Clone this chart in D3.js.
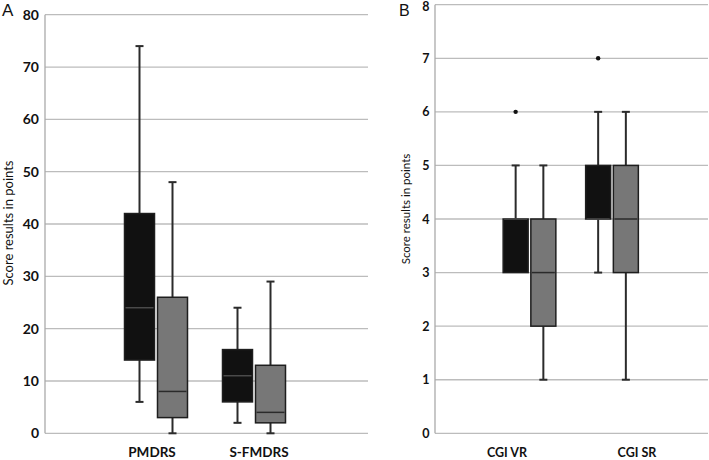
<!DOCTYPE html>
<html>
<head>
<meta charset="utf-8">
<script src="https://cdn.jsdelivr.net/npm/d3@7"></script>
<style>
  body { margin: 0; background: #fff; }
  text { font-family: Lato, "Open Sans", sans-serif; fill: #111; }
</style>
</head>
<body>
<script>
// groups: first box black, second box grey
var groups = ["g1", "g2"];

// panel A
var catsA = ["PMDRS", "S-FMDRS"];
var ticksA = [0, 10, 20, 30, 40, 50, 60, 70, 80];
var minA1 = [6, 2],  q1A1 = [14, 6], medA1 = [24, 11], q3A1 = [42, 16], maxA1 = [74, 24];
var minA2 = [0, 0],  q1A2 = [3, 2],  medA2 = [8, 4],   q3A2 = [26, 13], maxA2 = [48, 29];
var outA1 = [[], []], outA2 = [[], []];

// panel B
var catsB = ["CGI VR", "CGI SR"];
var ticksB = [0, 1, 2, 3, 4, 5, 6, 7, 8];
var minB1 = [3, 3], q1B1 = [3, 4], medB1 = [4, 4], q3B1 = [4, 5], maxB1 = [5, 6];
var minB2 = [1, 1], q1B2 = [2, 3], medB2 = [3, 4], q3B2 = [4, 5], maxB2 = [5, 6];
var outB1 = [[6], [7]], outB2 = [[], []];

var fills = { g1: "#111111", g2: "#777777" },
    medColor = { g1: "#4a4a4a", g2: "#2a2a2a" };

var svg = d3.select("body").append("svg").attr("width", 709).attr("height", 460);

function rows(cats, mins, q1s, meds, q3s, maxs, outs, grp) {
    return cats.map(function(c, i) {
        return { cat: c, grp: grp, min: mins[i], q1: q1s[i], med: meds[i], q3: q3s[i], max: maxs[i], out: outs[i] };
    });
}

function drawPanel(p) {
    var g = svg.append("g");
    var y = d3.scaleLinear().domain(p.yDomain).range([433.3, p.yTop]);
    // labels sit in their own bands, boxes are pulled a bit to the middle
    var xLab = d3.scaleBand().domain(p.cats).range(p.labRange);
    var xBox = d3.scalePoint().domain(p.cats).range(p.boxRange);
    var xSub = d3.scaleBand().domain(groups).range([-p.subR, p.subR]).paddingInner(p.subPad);
    var bw = xSub.bandwidth();

    // grid
    g.selectAll("line.grid").data(p.ticks).enter().append("line")
        .attr("x1", p.x0).attr("x2", p.x1)
        .attr("y1", function(d) { return y(d); }).attr("y2", function(d) { return y(d); })
        .attr("stroke", "#bcbcbc").attr("stroke-width", 1.3);
    g.append("line").attr("x1", p.x0).attr("x2", p.x0)
        .attr("y1", y(p.ticks[p.ticks.length - 1])).attr("y2", y(0))
        .attr("stroke", "#aaa").attr("stroke-width", 1.3);

    g.selectAll("text.tick").data(p.ticks).enter().append("text")
        .attr("x", p.tickX).attr("y", function(d) { return Math.max(y(d), 6); })
        .attr("dy", "0.36em").attr("text-anchor", "end")
        .style("font-size", p.tickSize + "px").style("font-weight", "bold")
        .text(function(d) { return d; });

    g.selectAll("text.cat").data(p.cats).enter().append("text")
        .attr("x", function(d) { return xLab(d) + xLab.bandwidth() / 2; })
        .attr("y", 457).attr("text-anchor", "middle")
        .style("font-size", p.catSize + "px").style("font-weight", "bold")
        .text(function(d) { return d; });

    g.append("text")
        .attr("transform", "translate(" + p.titleX + "," + p.titleY + ") rotate(-90)")
        .attr("text-anchor", "middle").style("font-size", p.titleSize + "px")
        .text("Score results in points");

    g.append("text").attr("x", p.letterX).attr("y", 16)
        .style("font-family", "'Liberation Sans', Arial, sans-serif")
        .style("font-size", p.letterSize + "px")
        .text(p.letter);

    var data = p.data;
    var cx = function(d) { return xBox(d.cat) + xSub(d.grp) + bw / 2; };
    var box = g.selectAll("g.box").data(data).enter().append("g");

    // whiskers
    box.filter(function(d) { return d.max > d.q3; }).append("line")
        .attr("x1", cx).attr("x2", cx)
        .attr("y1", function(d) { return y(d.q3); }).attr("y2", function(d) { return y(d.max); })
        .attr("stroke", "#2b2b2b").attr("stroke-width", 2);
    box.filter(function(d) { return d.max > d.q3; }).append("line")
        .attr("x1", function(d) { return cx(d) - 4; }).attr("x2", function(d) { return cx(d) + 4; })
        .attr("y1", function(d) { return y(d.max); }).attr("y2", function(d) { return y(d.max); })
        .attr("stroke", "#2b2b2b").attr("stroke-width", 2);
    box.filter(function(d) { return d.min < d.q1; }).append("line")
        .attr("x1", cx).attr("x2", cx)
        .attr("y1", function(d) { return y(d.q1); }).attr("y2", function(d) { return y(d.min); })
        .attr("stroke", "#2b2b2b").attr("stroke-width", 2);
    box.filter(function(d) { return d.min < d.q1; }).append("line")
        .attr("x1", function(d) { return cx(d) - 4; }).attr("x2", function(d) { return cx(d) + 4; })
        .attr("y1", function(d) { return y(d.min); }).attr("y2", function(d) { return y(d.min); })
        .attr("stroke", "#2b2b2b").attr("stroke-width", 2);

    box.append("rect")
        .attr("x", function(d) { return cx(d) - bw / 2; })
        .attr("width", bw)
        .attr("y", function(d) { return y(d.q3); })
        .attr("height", function(d) { return y(d.q1) - y(d.q3); })
        .attr("fill", function(d) { return fills[d.grp]; })
        .attr("stroke", "#1e1e1e").attr("stroke-width", 1.5);

    box.append("line")
        .attr("x1", function(d) { return cx(d) - bw / 2 + 1; })
        .attr("x2", function(d) { return cx(d) + bw / 2 - 1; })
        .attr("y1", function(d) { return y(d.med); }).attr("y2", function(d) { return y(d.med); })
        .attr("stroke", function(d) { return medColor[d.grp]; }).attr("stroke-width", 1.5);

    box.selectAll("circle").data(function(d) { return d.out.map(function(v) { return { v: v, d: d }; }); })
        .enter().append("circle")
        .attr("cx", function(o) { return cx(o.d); })
        .attr("cy", function(o) { return y(o.v); })
        .attr("r", 2.2).attr("fill", "#111");
}

drawPanel({
    cats: catsA, ticks: ticksA, yDomain: [0, 80], yTop: 14.7,
    x0: 45, x1: 368, labRange: [98.5, 312.5], boxRange: [156, 254],
    subR: 31.5, subPad: 3 / 33,
    tickX: 39, tickSize: 14, catSize: 13.5,
    titleX: 12.5, titleY: 223, titleSize: 13,
    letter: "A", letterX: 2, letterSize: 17,
    data: rows(catsA, minA1, q1A1, medA1, q3A1, maxA1, outA1, "g1")
        .concat(rows(catsA, minA2, q1A2, medA2, q3A2, maxA2, outA2, "g2"))
});

drawPanel({
    cats: catsB, ticks: ticksB, yDomain: [0, 8], yTop: 4.7,
    x0: 435, x1: 708, labRange: [442, 702], boxRange: [529.5, 612],
    subR: 26.35, subPad: 0.0975,
    tickX: 429.5, tickSize: 12.5, catSize: 12.5,
    titleX: 409.5, titleY: 209, titleSize: 11.5,
    letter: "B", letterX: 399, letterSize: 16,
    data: rows(catsB, minB1, q1B1, medB1, q3B1, maxB1, outB1, "g1")
        .concat(rows(catsB, minB2, q1B2, medB2, q3B2, maxB2, outB2, "g2"))
});
</script>
</body>
</html>
